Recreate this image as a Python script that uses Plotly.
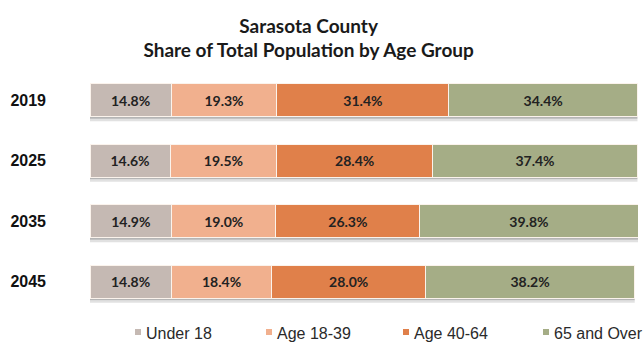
import plotly.graph_objects as go

# Share of total population by age group, Sarasota County
years = ["2019", "2025", "2035", "2045"]
groups = ["Under 18", "Age 18-39", "Age 40-64", "65 and Over"]
under_18 = [14.8, 14.6, 14.9, 14.8]
age_18_39 = [19.3, 19.5, 19.0, 18.4]
age_40_64 = [31.4, 28.4, 26.3, 28.0]
age_65_over = [34.4, 37.4, 39.8, 38.2]

series = [under_18, age_18_39, age_40_64, age_65_over]
colors = ["#c5b9b3", "#f1b08e", "#e0804a", "#a5ad86"]

W, H = 643, 343
M_L, M_R, M_T, M_B = 90, 5, 70, 31
BAR_WIDTH = 0.545

fig = go.Figure()
for name, vals, col in zip(groups, series, colors):
    fig.add_trace(go.Bar(
        y=years, x=vals, name=name, orientation="h",
        width=BAR_WIDTH,
        marker=dict(color=col, line=dict(color="#fbf3ec", width=1)),
        text=[f"<b>{v:.1f}%</b>" for v in vals],
        textposition="inside", insidetextanchor="middle",
        textfont=dict(family="Lato", size=14, color="#222222"),
        hoverinfo="skip",
        showlegend=False,
    ))

# soft grey shadow under each bar
totals = [sum(s[i] for s in series) for i in range(len(years))]
for i, tot in enumerate(totals):
    base = i + BAR_WIDTH / 2
    fig.add_shape(type="rect", xref="x", yref="y",
                  x0=0, x1=tot, y0=base, y1=base + 0.035,
                  fillcolor="rgba(120,120,120,0.55)", line_width=0, layer="below")
    fig.add_shape(type="rect", xref="x", yref="y",
                  x0=0, x1=tot, y0=base + 0.035, y1=base + 0.075,
                  fillcolor="rgba(170,170,170,0.35)", line_width=0, layer="below")

# legend row: small colour square followed by the group name
plot_w = W - M_L - M_R
plot_h = H - M_T - M_B
legend_square_px = [135, 266, 403, 543]
legend_y_px = 333


def px_to_paper_x(px):
    return (px - M_L) / plot_w


def px_to_paper_y(py):
    return (H - M_B - py) / plot_h


for name, col, sx in zip(groups, colors, legend_square_px):
    fig.add_shape(type="rect", xref="paper", yref="paper",
                  xsizemode="pixel", ysizemode="pixel",
                  xanchor=px_to_paper_x(sx), yanchor=px_to_paper_y(legend_y_px - 1),
                  x0=0, x1=6, y0=-3, y1=3,
                  fillcolor=col, line_width=0)
    fig.add_annotation(xref="paper", yref="paper",
                       x=px_to_paper_x(sx + 9), y=px_to_paper_y(legend_y_px),
                       xanchor="left", yanchor="middle", showarrow=False,
                       text=name,
                       font=dict(family="Liberation Sans", size=16, color="#2a2a2a"))

fig.update_layout(
    width=W, height=H,
    barmode="stack",
    paper_bgcolor="white", plot_bgcolor="white",
    margin=dict(l=M_L, r=M_R, t=M_T, b=M_B, autoexpand=False),
    title=dict(
        text="<b>Sarasota County<br>Share of Total Population by Age Group</b>",
        x=0.48, xanchor="center", y=0.905, yanchor="middle",
        font=dict(family="Lato", size=19, color="#1a1a1a"),
    ),
    xaxis=dict(range=[0, 100], visible=False, fixedrange=True),
    yaxis=dict(
        categoryorder="array", categoryarray=years,
        range=[3.5, -0.5],
        showgrid=False, zeroline=False, showline=False, ticks="",
        ticklabelstandoff=43,
        tickfont=dict(family="Liberation Sans", size=16, color="#111111"),
        tickprefix="<b>", ticksuffix="</b>",
        fixedrange=True,
    ),
    showlegend=False,
)

fig.write_html("out.html")
